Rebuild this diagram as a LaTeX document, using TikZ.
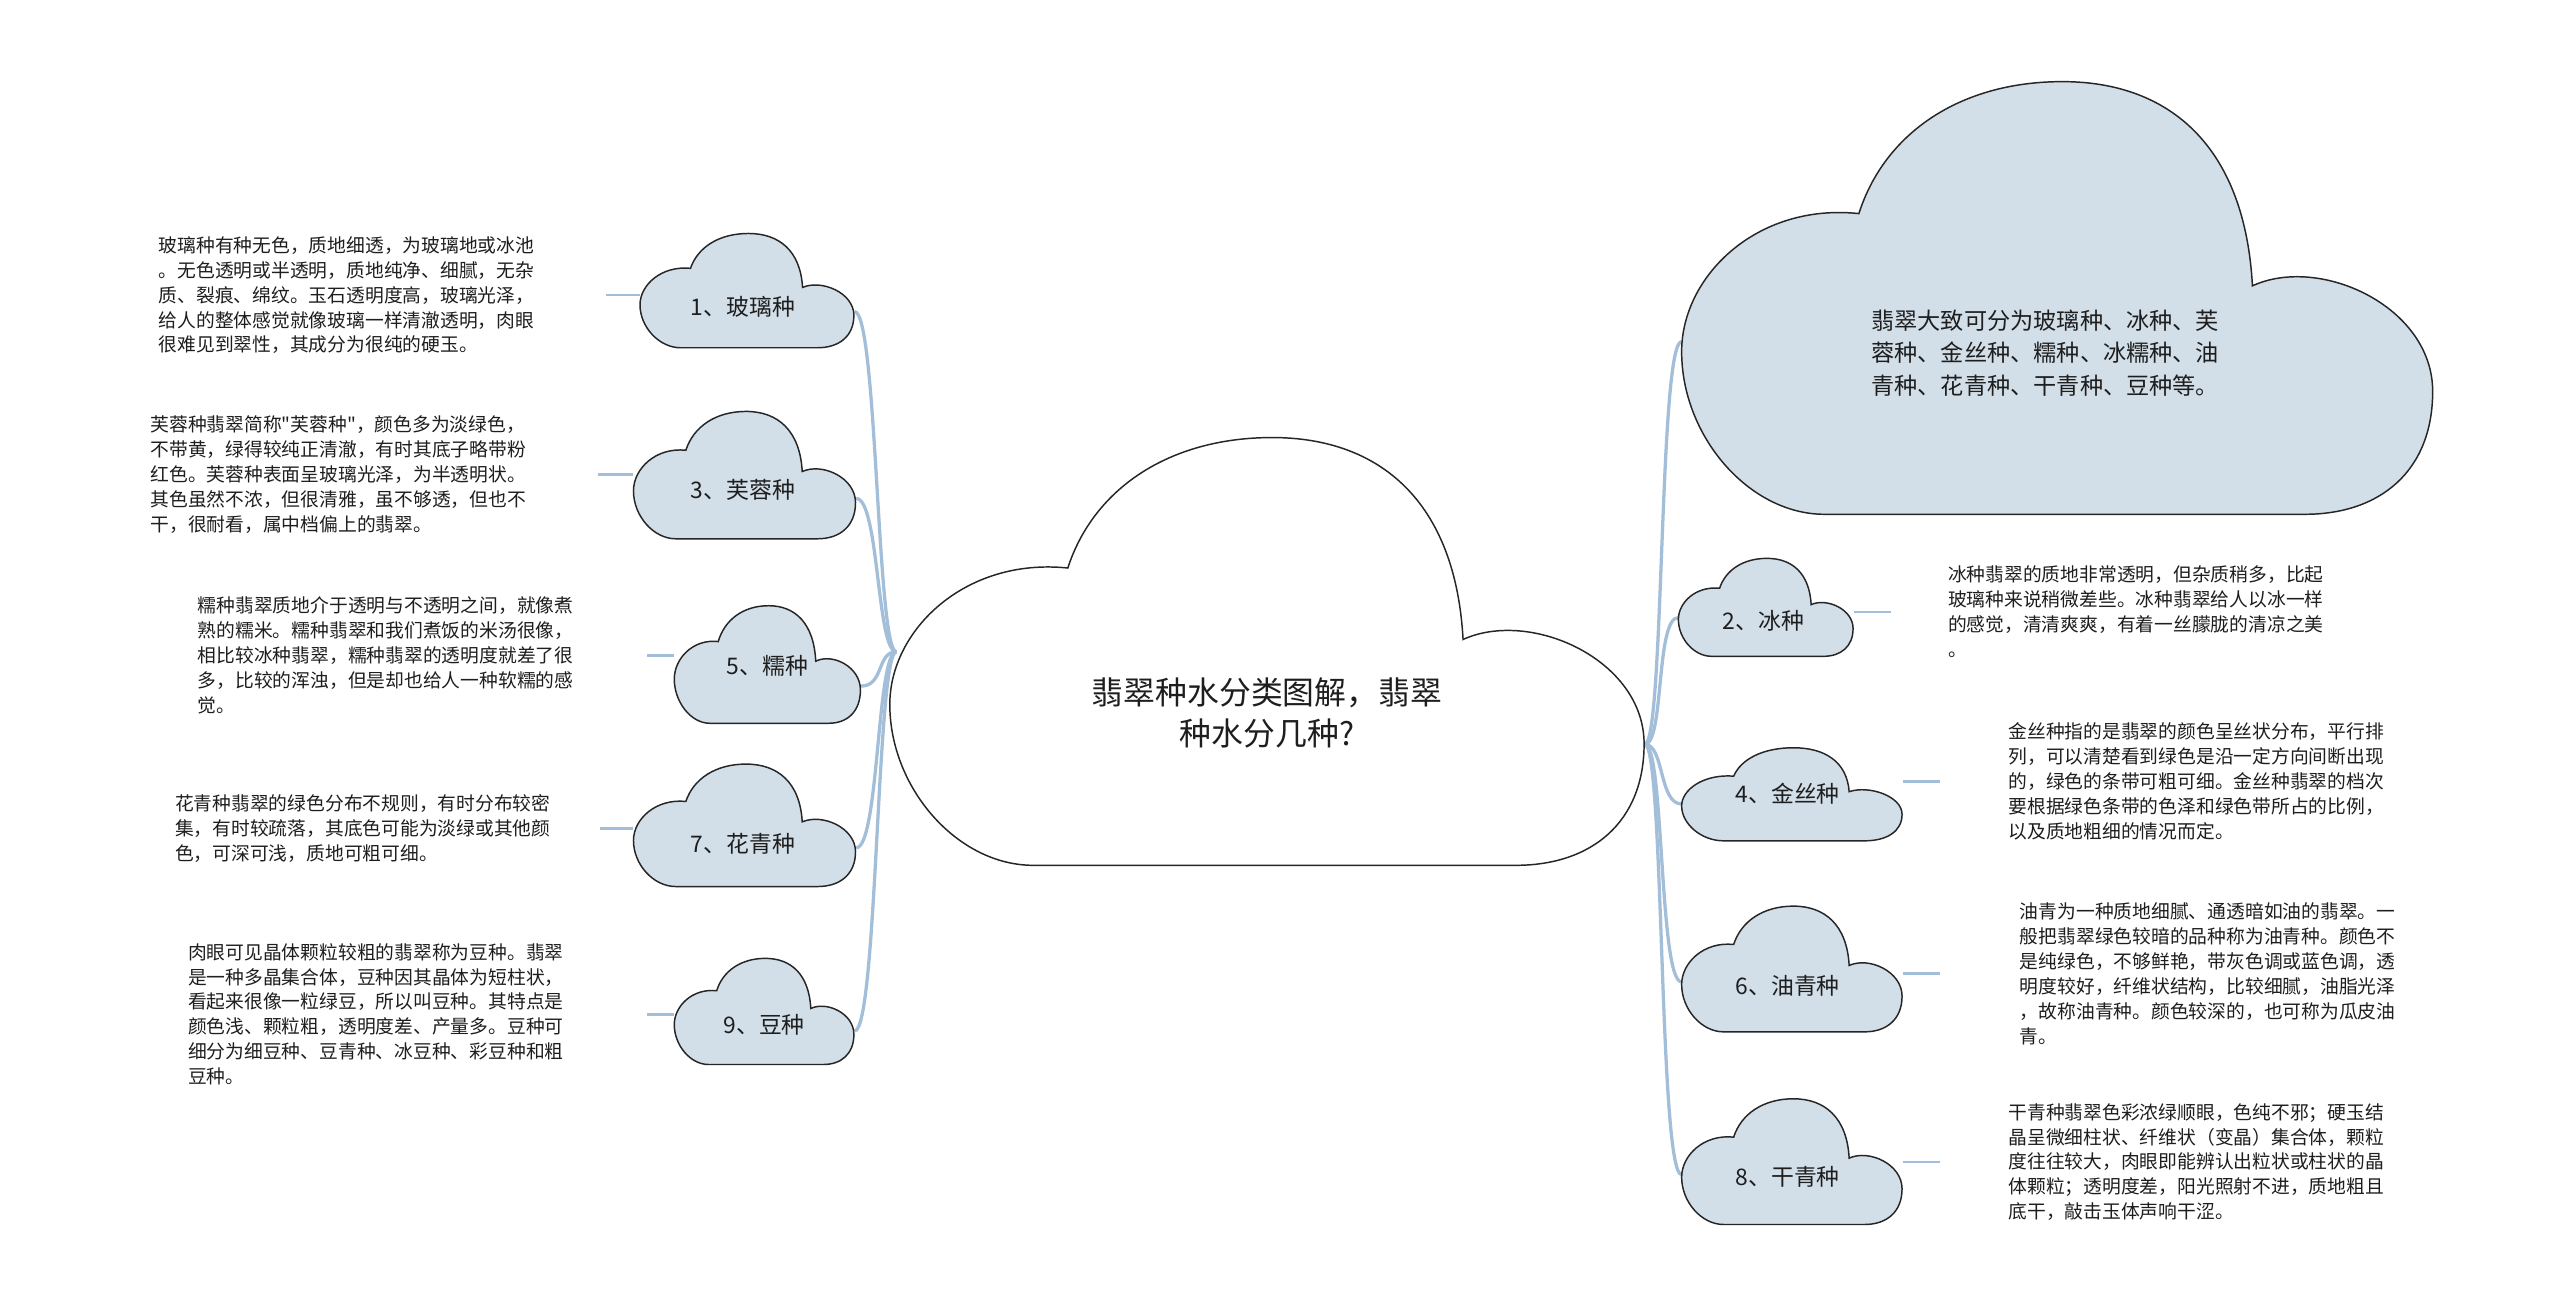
\documentclass[tikz,border=0pt]{standalone}
\usepackage{fontspec}
\setmainfont{Noto Sans CJK SC}
\newfontfamily\rawfont{Noto Sans CJK SC}
\usetikzlibrary{calc}
\definecolor{conncol}{HTML}{A3BED8}
\definecolor{cloudfill}{HTML}{D3DFE8}
\definecolor{outl}{HTML}{262626}
\definecolor{txt}{HTML}{1E1E1E}
\tikzset{
  cbox/.style={draw=none, inner sep=0pt, anchor=north west},
  cloudline/.style={draw=outl, line width=0.9pt},
  conn/.style={draw=conncol, line width=2pt},
  stub/.style={draw=conncol, line width=1.6pt},
  desc/.style={inner ysep=0pt, inner xsep=0pt, anchor=base west, align=left, text=txt,
    font=\fontsize{11.5pt}{15.3pt}\selectfont},
  lab/.style={inner sep=0pt, anchor=base, text=txt, font=\fontsize{14pt}{17pt}\selectfont},
}
\newcommand\qt{{\rawfont"}}
\newcommand\drawcloud[4]{%
  \path[cloudline, fill=#4, shift={(#1.north west)}, xscale=#2, yscale=#3]
    (0.19,1) -- (0.83,1) .. controls (0.93,1) and (1,0.9) .. (1,0.716)
    .. controls (1,0.52) and (0.85,0.40) .. (0.76,0.472)
    .. controls (0.75,0.15) and (0.65,0) .. (0.507,0)
    .. controls (0.37,0) and (0.27,0.12) .. (0.236,0.305)
    .. controls (0.10,0.28) and (0,0.45) .. (0,0.624)
    .. controls (0,0.82) and (0.09,1) .. (0.19,1) -- cycle;}
\begin{document}
\begin{tikzpicture}[x=1pt,y=-1pt]
\path[fill=white] (0,0) rectangle (1568,805);
\useasboundingbox (0,0) rectangle (1568,805);

% cloud boxes
\node[cbox, minimum width=462pt, minimum height=262pt] (m) at (545,268) {};
\node[cbox, minimum width=460pt, minimum height=265pt] (r0) at (1030,50) {};
\node[cbox, minimum width=131pt, minimum height=70pt] (c1) at (392,143) {};
\node[cbox, minimum width=136pt, minimum height=78pt] (c3) at (388,252) {};
\node[cbox, minimum width=114pt, minimum height=72pt] (c5) at (413,371) {};
\node[cbox, minimum width=136pt, minimum height=75pt] (c7) at (388,468) {};
\node[cbox, minimum width=110pt, minimum height=65pt] (c9) at (413,587) {};
\node[cbox, minimum width=107pt, minimum height=60pt] (c2) at (1028,342) {};
\node[cbox, minimum width=135pt, minimum height=57pt] (c4) at (1030,458) {};
\node[cbox, minimum width=135pt, minimum height=77pt] (c6) at (1030,555) {};
\node[cbox, minimum width=135pt, minimum height=77pt] (c8) at (1030,673) {};

% main connectors
\coordinate (mL) at ($(m.west)+(4,0)$);
\coordinate (mR) at ($(m.north east)!0.716!(m.south east)$);
\foreach \c in {c1,c3,c5,c7,c9}
  \draw[conn] (mL) .. controls +(-12,0) and +(14,0) .. ($(\c.north east)!0.68!(\c.south east)$);
\foreach \c in {r0,c2,c4,c6,c8}
  \draw[conn] (mR) .. controls +(12,0) and +(-14,0) .. ($(\c.north west)!0.6!(\c.south west)$);

% clouds
\drawcloud{m}{462}{262}{white}
\drawcloud{r0}{460}{265}{cloudfill}
\drawcloud{c1}{131}{70}{cloudfill}
\drawcloud{c3}{136}{78}{cloudfill}
\drawcloud{c5}{114}{72}{cloudfill}
\drawcloud{c7}{136}{75}{cloudfill}
\drawcloud{c9}{110}{65}{cloudfill}
\drawcloud{c2}{107}{60}{cloudfill}
\drawcloud{c4}{135}{57}{cloudfill}
\drawcloud{c6}{135}{77}{cloudfill}
\drawcloud{c8}{135}{77}{cloudfill}

% labels
\node[inner sep=0pt, anchor=base, text=txt, align=center, text width=300pt,
  font=\fontsize{19.5pt}{25pt}\selectfont] (title) at (776,431.4) {翡翠种水分类图解，翡翠\\种水分几种?};
\node[desc, text width=240pt, font=\fontsize{14.2pt}{20pt}\selectfont] (t0) at (1146,201.6)
  {翡翠大致可分为玻璃种、冰种、芙\\蓉种、金丝种、糯种、冰糯种、油\\青种、花青种、干青种、豆种等。};
\node[lab] (l1) at (455,193.3) {1、玻璃种};
\node[lab] (l3) at (455,305.3) {3、芙蓉种};
\node[lab] (l5) at (470,413.3) {5、糯种};
\node[lab] (l7) at (455,522.3) {7、花青种};
\node[lab] (l9) at (468,633.3) {9、豆种};
\node[lab] (l2) at (1080,385.3) {2、冰种};
\node[lab] (l4) at (1095,491.3) {4、金丝种};
\node[lab] (l6) at (1095,609.3) {6、油青种};
\node[lab] (l8) at (1095,726.3) {8、干青种};

% left descriptions
\node[desc, text width=274pt] (t1) at (97,154.4)
  {玻璃种有种无色，质地细透，为玻璃地或冰池\\。无色透明或半透明，质地纯净、细腻，无杂\\质、裂痕、绵纹。玉石透明度高，玻璃光泽，\\给人的整体感觉就像玻璃一样清澈透明，肉眼\\很难见到翠性，其成分为很纯的硬玉。};
\node[desc, text width=274pt] (t3) at (92,264.4)
  {芙蓉种翡翠简称\qt 芙蓉种\qt ，颜色多为淡绿色，\\不带黄，绿得较纯正清澈，有时其底子略带粉\\红色。芙蓉种表面呈玻璃光泽，为半透明状。\\其色虽然不浓，但很清雅，虽不够透，但也不\\干，很耐看，属中档偏上的翡翠。};
\node[desc, text width=275pt] (t5) at (121,375.4)
  {糯种翡翠质地介于透明与不透明之间，就像煮\\熟的糯米。糯种翡翠和我们煮饭的米汤很像，\\相比较冰种翡翠，糯种翡翠的透明度就差了很\\多，比较的浑浊，但是却也给人一种软糯的感\\觉。};
\node[desc, text width=260pt] (t7) at (107,496.4)
  {花青种翡翠的绿色分布不规则，有时分布较密\\集，有时较疏落，其底色可能为淡绿或其他颜\\色，可深可浅，质地可粗可细。};
\node[desc, text width=281pt] (t9) at (115,587.4)
  {肉眼可见晶体颗粒较粗的翡翠称为豆种。翡翠\\是一种多晶集合体，豆种因其晶体为短柱状，\\看起来很像一粒绿豆，所以叫豆种。其特点是\\颜色浅、颗粒粗，透明度差、产量多。豆种可\\细分为细豆种、豆青种、冰豆种、彩豆种和粗\\豆种。};

% right descriptions
\node[desc, inner xsep=35pt, text width=240pt] (t2) at (1158,356.4)
  {冰种翡翠的质地非常透明，但杂质稍多，比起\\玻璃种来说稍微差些。冰种翡翠给人以冰一样\\的感觉，清清爽爽，有着一丝朦胧的清凉之美\\。};
\node[desc, inner xsep=42pt, text width=240pt] (t4) at (1188,452.4)
  {金丝种指的是翡翠的颜色呈丝状分布，平行排\\列，可以清楚看到绿色是沿一定方向间断出现\\的，绿色的条带可粗可细。金丝种翡翠的档次\\要根据绿色条带的色泽和绿色带所占的比例，\\以及质地粗细的情况而定。};
\node[desc, inner xsep=49pt, text width=240pt] (t6) at (1188,562.4)
  {油青为一种质地细腻、通透暗如油的翡翠。一\\般把翡翠绿色较暗的品种称为油青种。颜色不\\是纯绿色，不够鲜艳，带灰色调或蓝色调，透\\明度较好，纤维状结构，比较细腻，油脂光泽\\，故称油青种。颜色较深的，也可称为瓜皮油\\青。};
\node[desc, inner xsep=42pt, text width=240pt] (t8) at (1188,685.4)
  {干青种翡翠色彩浓绿顺眼，色纯不邪；硬玉结\\晶呈微细柱状、纤维状（变晶）集合体，颗粒\\度往往较大，肉眼即能辨认出粒状或柱状的晶\\体颗粒；透明度差，阳光照射不进，质地粗且\\底干，敲击玉体声响干涩。};

% stubs
\draw[stub] (t1.east) -- (t1.east -| c1.west);
\draw[stub] (t3.east) -- (t3.east -| c3.west);
\draw[stub] (t5.east) -- (t5.east -| c5.west);
\draw[stub] (t7.east) -- (t7.east -| c7.west);
\draw[stub] (t9.east) -- (t9.east -| c9.west);
\draw[stub] (c2.east |- t2.west) -- (t2.west);
\draw[stub] (c4.east |- t4.west) -- (t4.west);
\draw[stub] (c6.east |- t6.west) -- (t6.west);
\draw[stub] (c8.east |- t8.west) -- (t8.west);
\end{tikzpicture}
\end{document}
